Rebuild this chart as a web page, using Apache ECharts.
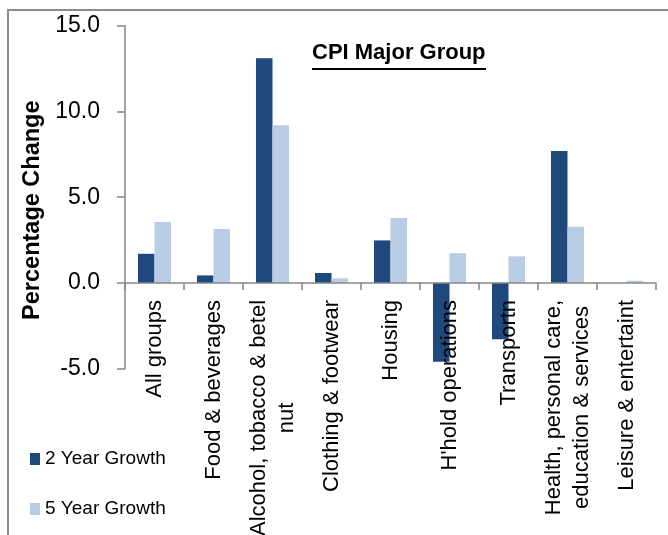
<!DOCTYPE html>
<html>
<head>
<meta charset="utf-8">
<script src="https://cdn.jsdelivr.net/npm/echarts@6/dist/echarts.min.js"></script>
<style>html,body{margin:0;padding:0;background:#fff;}#c{width:668px;height:535px;}</style>
</head>
<body>
<div id="c"></div>
<script>
const categories = ["All groups", "Food & beverages", "Alcohol, tobacco & betel\nnut", "Clothing & footwear", "Housing", "H'hold operations", "Transportn", "Health, personal care,\neducation & services", "Leisure & entertaint"];
const growth2Year = [1.7, 0.44, 13.1, 0.58, 2.48, -4.59, -3.29, 7.69, 0];
const growth5Year = [3.55, 3.14, 9.19, 0.27, 3.78, 1.74, 1.55, 3.27, 0.13];
const seriesNames = ["2 Year Growth", "5 Year Growth"];
const yTicks = { min: -5, max: 15, interval: 5 };
const titleText = "CPI Major Group";
const yAxisTitle = "Percentage Change";

const FONT = "Liberation Sans";
const AXIS_GRAY = "#868686";
const W = 668, H = 535;
const GRID = { left: 125, right: 12, top: 25.7, bottom: 166.3 };
const gridHeight = H - GRID.top - GRID.bottom;
// place the category axis (line, ticks and labels) on the zero value
const zeroOffset = -((0 - yTicks.min) / (yTicks.max - yTicks.min)) * gridHeight;

const chart = echarts.init(document.getElementById('c'), null, { renderer: 'canvas' });
chart.setOption({
  animation: false,
  backgroundColor: '#ffffff',
  title: {
    text: titleText,
    left: 312, top: 42, padding: 0,
    textStyle: { fontFamily: FONT, fontSize: 22, fontWeight: 'bold', color: '#000' }
  },
  graphic: [
    { type: 'rect', shape: { x: 8, y: 10, width: 900, height: 900 }, style: { fill: 'none', stroke: '#8c8c8c', lineWidth: 2 }, silent: true },
    { type: 'line', shape: { x1: 312, y1: 69, x2: 486, y2: 69 }, style: { stroke: '#000', lineWidth: 2 }, silent: true }
  ],
  legend: {
    orient: 'vertical', left: 30, top: 449, padding: 0,
    itemWidth: 10, itemHeight: 12, itemGap: 30, icon: 'rect',
    textStyle: { fontFamily: FONT, fontSize: 19, color: '#000', lineHeight: 20 },
    data: seriesNames
  },
  grid: { left: GRID.left, right: GRID.right, top: GRID.top, bottom: GRID.bottom, containLabel: false, outerBoundsMode: 'none' },
  xAxis: {
    type: 'category', data: categories, z: 10,
    offset: zeroOffset,
    axisLine: { onZero: false, lineStyle: { color: AXIS_GRAY, width: 1.5 } },
    axisTick: { show: true, length: 7, lineStyle: { color: AXIS_GRAY, width: 1.5 } },
    axisLabel: {
      interval: 0, rotate: 90, margin: 17,
      formatter: v => v.split('\n').map(s => '{c|' + s + '}').join('\n'),
      rich: { c: { align: 'center', fontFamily: FONT, fontSize: 22, color: '#000', lineHeight: 28 } }
    }
  },
  yAxis: {
    type: 'value', min: yTicks.min, max: yTicks.max, interval: yTicks.interval,
    name: yAxisTitle, nameLocation: 'middle', nameGap: 78,
    nameTextStyle: { fontFamily: FONT, fontSize: 23.5, fontWeight: 'bold', color: '#000', padding: [0, 26, 0, 0] },
    axisLine: { show: true, lineStyle: { color: AXIS_GRAY, width: 1.5 } },
    axisTick: { show: true, length: 8, lineStyle: { color: AXIS_GRAY, width: 1.5 } },
    splitLine: { show: false },
    axisLabel: { margin: 25, fontFamily: FONT, fontSize: 23, color: '#000', formatter: v => v.toFixed(1) }
  },
  series: [
    { name: seriesNames[0], type: 'bar', data: growth2Year, barGap: '0%', barCategoryGap: '44%', itemStyle: { color: '#1F497D' } },
    { name: seriesNames[1], type: 'bar', data: growth5Year, barGap: '0%', barCategoryGap: '44%', itemStyle: { color: '#B9CDE5' } }
  ]
});
</script>
</body>
</html>
